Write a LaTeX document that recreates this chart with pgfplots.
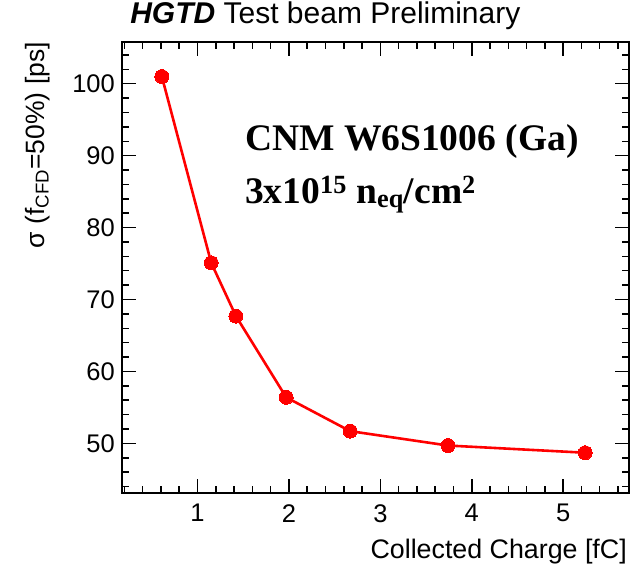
\documentclass[border=0pt]{standalone}
\usepackage{fontspec}
\setmainfont{Liberation Sans}
\newfontfamily\serifbf{Liberation Serif}
\usepackage{pgfplots}
\pgfplotsset{compat=1.18}
\begin{document}
\begin{tikzpicture}
\useasboundingbox (-122pt,-70pt) rectangle (518pt,493pt);
\begin{axis}[
  at={(0,0)}, anchor=south west,
  scale only axis, width=507pt, height=451pt,
  xmin=0.174, xmax=5.72, ymin=43.1, ymax=105.8,
  xtick={1,2,3,4,5}, ytick={50,60,70,80,90,100},
  minor xtick={0.2,0.4,...,5.6},
  minor ytick={44,46,...,104},
  tick align=inside,
  major tick length=14pt, minor tick length=7pt,
  axis line style={line width=1.5pt},
  every tick/.style={black, line width=1.5pt},
  /pgf/number format/assume math mode=true,
  ticklabel style={font=\fontsize{25.5}{25.5}\selectfont},
  xticklabel style={inner sep=0pt, anchor=north, yshift=-11pt},
  yticklabel style={inner sep=0pt, anchor=east, xshift=-7pt},
  title={\textbf{\textit{HGTD}} Test beam Preliminary},
  title style={at={(axis description cs:0.016,1)}, anchor=base west, yshift=12pt, inner sep=0pt, font=\fontsize{30}{30}\selectfont},
  xlabel={Collected Charge [fC]},
  xlabel style={at={(axis description cs:1,0)}, anchor=north east, yshift=-46pt, xshift=-2pt, inner sep=0pt, font=\fontsize{26.8}{26.8}\selectfont},
  ylabel={σ (f\textsubscript{CFD}=50\%) [ps]},
  ylabel style={at={(axis description cs:-0.142,1)}, anchor=south east, inner sep=0pt, font=\fontsize{26.5}{26.5}\selectfont},
]
\addplot[red, line width=2.6pt, mark=*, mark size=7pt, mark options={fill=red, draw=red, line width=0pt}] coordinates {
  (0.61,101.0) (1.15,75.1) (1.42,67.7) (1.97,56.4) (2.67,51.7) (3.74,49.7) (5.24,48.7)
};
\node[anchor=base west, inner sep=0pt, font=\serifbf\bfseries\fontsize{37.5}{37.5}\selectfont] at (rel axis cs:0.2426,0.7605) {CNM W6S1006 (Ga)};
\node[anchor=base west, inner sep=0pt, font=\serifbf\bfseries\fontsize{37.5}{37.5}\selectfont] at (rel axis cs:0.2426,0.643) {3x10\textsuperscript{15} n\textsubscript{eq}/cm\textsuperscript{2}};
\end{axis}
\end{tikzpicture}
\end{document}
